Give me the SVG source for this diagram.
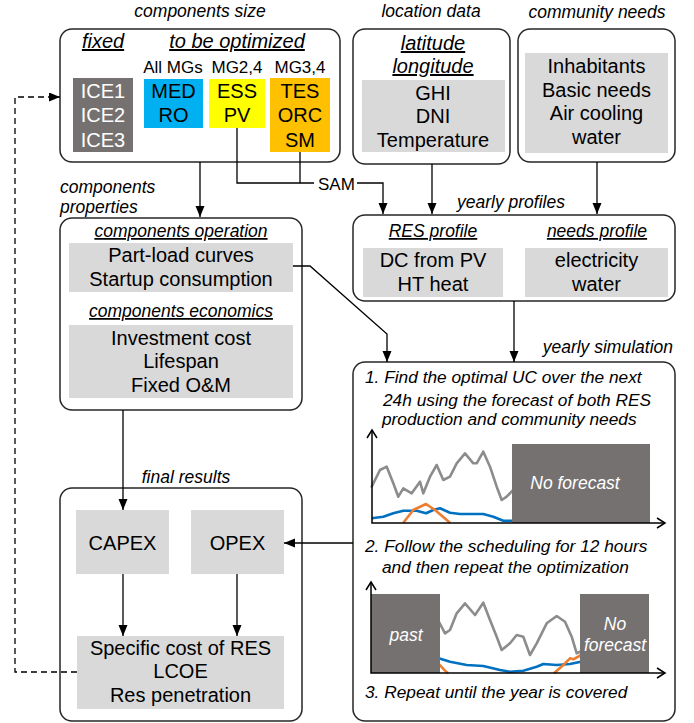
<svg xmlns="http://www.w3.org/2000/svg" width="694" height="723" viewBox="0 0 694 723">
<defs>
<marker id="ah" markerUnits="userSpaceOnUse" markerWidth="12" markerHeight="10" refX="11" refY="4.5" orient="auto" viewBox="0 0 12 10">
<path d="M0,0 L11,4.5 L0,9 z" fill="#000" stroke="none"/>
</marker>
<style>
text{font-family:"Liberation Sans",Arial,sans-serif;fill:#000}
.t{font-size:20px;text-anchor:middle}
.w{fill:#fff}
.it{font-style:italic;font-size:17.5px}
.c{text-anchor:middle}
.u{text-decoration:underline}
.big{font-size:20px}
.box{fill:#fff;stroke:#262626;stroke-width:1.5}
.g{fill:#d9d9d9}
.dk{fill:#767171}
.ln{fill:none;stroke:#000;stroke-width:1.3}
.axis{fill:none;stroke:#000;stroke-width:1.5}
.gl{fill:none;stroke:#8c8c8c;stroke-width:2.6;stroke-linejoin:round;stroke-linecap:round}
.bl{fill:none;stroke:#0070c0;stroke-width:2.6;stroke-linejoin:round}
.ol{fill:none;stroke:#ed7d31;stroke-width:2.6;stroke-linejoin:round}
.st{font-style:italic;font-size:17.3px}
</style>
</defs>

<g id="components-size">
<text class="it c" x="200" y="17">components size</text>
<rect class="box" x="60" y="29" width="280" height="133" rx="12"/>
<text class="it c u big" x="103" y="48">fixed</text>
<text class="it c u big" x="237" y="48">to be optimized</text>
<text class="c" x="173" y="73" style="font-size:17px">All MGs</text>
<text class="c" x="237" y="73" style="font-size:17px">MG2,4</text>
<text class="c" x="300" y="73" style="font-size:17px">MG3,4</text>
<rect class="dk" x="73" y="78" width="60" height="74"/>
<text class="t w" x="103" y="98">ICE1</text>
<text class="t w" x="103" y="122">ICE2</text>
<text class="t w" x="103" y="147">ICE3</text>
<rect x="144" y="79" width="59" height="49" fill="#00b0f0"/>
<text class="t" x="173.5" y="98">MED</text>
<text class="t" x="173.5" y="122">RO</text>
<rect x="209" y="79" width="56" height="49" fill="#ffff00"/>
<text class="t" x="237" y="98">ESS</text>
<text class="t" x="237" y="122">PV</text>
<rect x="270" y="78" width="60" height="74" fill="#ffc000"/>
<text class="t" x="300" y="98">TES</text>
<text class="t" x="300" y="122">ORC</text>
<text class="t" x="300" y="147">SM</text>
</g>

<g id="location-data">
<text class="it c" x="431" y="17">location data</text>
<rect class="box" x="353" y="29" width="157" height="135" rx="12"/>
<text class="it c u big" x="433" y="50">latitude</text>
<text class="it c u big" x="433" y="73">longitude</text>
<rect class="g" x="362" y="80" width="143" height="72"/>
<text class="t" x="433" y="100">GHI</text>
<text class="t" x="433" y="123">DNI</text>
<text class="t" x="433" y="147">Temperature</text>
</g>

<g id="community-needs">
<text class="it c" x="597" y="18">community needs</text>
<rect class="box" x="518" y="29" width="157" height="133" rx="12"/>
<rect class="g" x="525" y="53" width="143" height="100"/>
<text class="t" x="596.5" y="73">Inhabitants</text>
<text class="t" x="596.5" y="97">Basic needs</text>
<text class="t" x="596.5" y="120">Air cooling</text>
<text class="t" x="596.5" y="144">water</text>
</g>

<g id="components-properties">
<text class="it" x="60" y="193">components</text>
<text class="it" x="60" y="213">properties</text>
<rect class="box" x="60" y="218" width="242" height="192" rx="12"/>
<text class="it c u" x="181" y="237">components operation</text>
<rect class="g" x="69" y="243" width="224" height="49"/>
<text class="t" x="181" y="262">Part-load curves</text>
<text class="t" x="181" y="286">Startup consumption</text>
<text class="it c u" x="181" y="317">components economics</text>
<rect class="g" x="69" y="325" width="224" height="73"/>
<text class="t" x="181" y="345">Investment cost</text>
<text class="t" x="181" y="368">Lifespan</text>
<text class="t" x="181" y="392">Fixed O&amp;M</text>
</g>

<g id="yearly-profiles">
<text class="it c" x="511" y="208">yearly profiles</text>
<rect class="box" x="353" y="215" width="322" height="86" rx="12"/>
<text class="it c u" x="433" y="237">RES profile</text>
<text class="it c u" x="597" y="237">needs profile</text>
<rect class="g" x="363" y="248" width="140" height="49"/>
<text class="t" x="433" y="267">DC from PV</text>
<text class="t" x="433" y="291">HT heat</text>
<rect class="g" x="525" y="248" width="143" height="49"/>
<text class="t" x="596.5" y="267">electricity</text>
<text class="t" x="596.5" y="291">water</text>
</g>

<g id="yearly-simulation">
<text class="it" x="673" y="353" text-anchor="end">yearly simulation</text>
<rect class="box" x="353" y="362" width="322" height="359" rx="12"/>
<text class="st" x="365" y="383">1. Find the optimal UC over the next</text>
<text class="st" x="383" y="406">24h using the forecast of both RES</text>
<text class="st" x="382" y="425">production and community needs</text>
<polyline class="gl" points="371.7,486.7 380,470 386.7,466.7 393.3,483.3 398.3,496.7 403.3,488.3 411.7,493.3 420,481.7 423.3,493.3 430,476.7 436.7,465 443.3,480 450,476.7 456.7,463.3 465,453.3 473.3,463.3 476.7,463.3 483.3,451.7 490,466.7 496.7,486.7 501.7,500 506.7,496.7 515,488"/>
<polyline class="bl" points="371.7,518.3 383.3,516.7 393.3,513.3 403.3,510.7 416.7,510.7 426,513.3 433.3,510 440,508.3 450,512.7 460,514 483.3,514 493.3,516.7 503.3,520.7 515,520.7"/>
<polyline class="ol" points="403.3,522.7 413.3,510 426,504 435,510 450,522.7"/>
<rect class="dk" x="512" y="444" width="138" height="79"/>
<text class="it c w" x="575" y="489">No forecast</text>
<path class="axis" d="M372,430 V523 H665"/>
<path class="axis" d="M367,438 L372,430 L377,438 M657,518 L665,523 L657,528"/>
<text class="st" x="365" y="552">2. Follow the scheduling for 12 hours</text>
<text class="st" x="382" y="573">and then repeat the optimization</text>
<polyline class="gl" points="438,620 445,633.3 450,630 456.7,613.3 465,603.3 475,615 483.3,602.7 490,620 496.7,636.7 501.7,650 510,643.3 516.7,635 523.3,636.7 530,655 536.7,643.3 546.7,623.3 556.7,616 565,621.7 571.7,636.7 576.7,653.3 582,651"/>
<polyline class="bl" points="438,658 450,661.7 466.7,665 483.3,666 500,670 510,671.7 523.3,670.7 536.7,666.7 543.3,664 556.7,665 570,664 582,661.5"/>
<polyline class="ol" points="438,663 445,670.7 448.3,673.3"/>
<polyline class="ol" points="554,673.3 563.3,665 570,658.3 573.3,659.3 582,654.5"/>
<rect class="dk" x="371" y="594" width="69" height="79"/>
<rect class="dk" x="580" y="594" width="69" height="79"/>
<text class="it c w" x="406" y="641">past</text>
<text class="it c w" x="615" y="630">No</text>
<text class="it c w" x="615" y="651">forecast</text>
<path class="axis" d="M371,582 V673 H665"/>
<path class="axis" d="M366,590 L371,582 L376,590 M657,668 L665,673 L657,678"/>
<text class="st" x="365" y="698">3. Repeat until the year is covered</text>
</g>

<g id="final-results">
<text class="it c" x="186" y="483">final results</text>
<rect class="box" x="60" y="488" width="242" height="233" rx="12"/>
<rect class="g" x="76" y="510" width="93" height="64"/>
<text class="t" x="122.5" y="550">CAPEX</text>
<rect class="g" x="191" y="510" width="93" height="64"/>
<text class="t" x="237.5" y="550">OPEX</text>
<rect class="g" x="77" y="636" width="207" height="73"/>
<text class="t" x="180.5" y="655">Specific cost of RES</text>
<text class="t" x="180.5" y="678">LCOE</text>
<text class="t" x="180.5" y="702">Res penetration</text>
</g>

<g id="connectors">
<path class="ln" marker-end="url(#ah)" d="M200,162 V217"/>
<path class="ln" d="M237,128 V183 H314"/>
<path class="ln" d="M300,152 V183"/>
<path class="ln" marker-end="url(#ah)" d="M357,183 H383 V214"/>
<path class="ln" marker-end="url(#ah)" d="M432,164 V214"/>
<path class="ln" marker-end="url(#ah)" d="M597,162 V214"/>
<path class="ln" marker-end="url(#ah)" d="M514,301 V362"/>
<path class="ln" marker-end="url(#ah)" d="M293,266 H310 L387,334 V362"/>
<path class="ln" marker-end="url(#ah)" d="M123,410 V510"/>
<path class="ln" marker-end="url(#ah)" d="M353,543 H284"/>
<path class="ln" marker-end="url(#ah)" d="M123,574 V636"/>
<path class="ln" marker-end="url(#ah)" d="M237,574 V636"/>
<path class="ln" marker-end="url(#ah)" d="M77,672 H15 V97 H60" stroke-dasharray="6,4"/>
<text x="318" y="190" style="font-size:17px">SAM</text>
</g>
</svg>
